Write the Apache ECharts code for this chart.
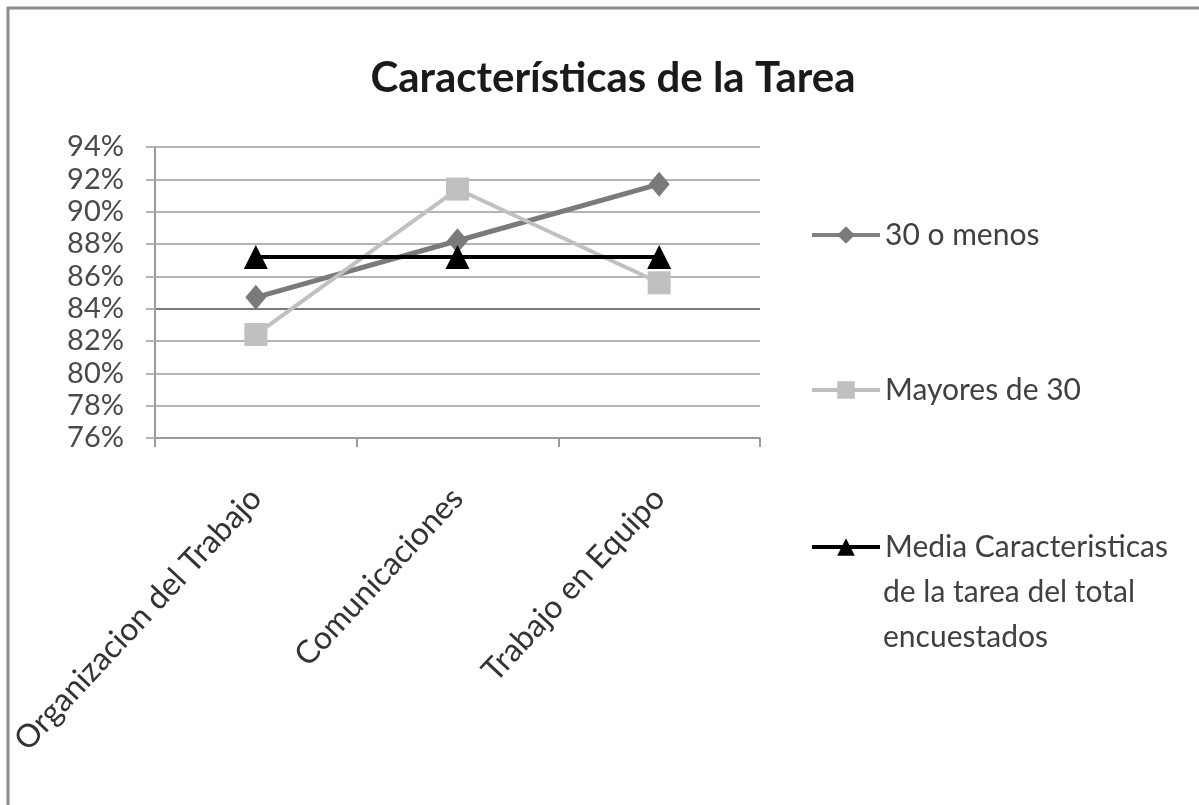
<!DOCTYPE html>
<html>
<head>
<meta charset="utf-8">
<script src="https://cdn.jsdelivr.net/npm/echarts@6/dist/echarts.min.js"></script>
<style>
  html, body { margin: 0; padding: 0; background: #ffffff; }
  #chart { width: 1199px; height: 805px; }
</style>
</head>
<body>
<div id="chart"></div>
<script>
// Categories and series values (percent)
var categories = ['Organizacion del Trabajo', 'Comunicaciones', 'Trabajo en Equipo'];
var hasta30 = [84.7, 88.2, 91.7];
var mayores30 = [82.4, 91.4, 85.6];
var mediaTotal = [87.2, 87.2, 87.2];
var seriesNames = ['30 o menos', 'Mayores de 30', 'Media Caracteristicas de la tarea del total encuestados'];
var mediaLegendLines = ['Media Caracteristicas', 'de la tarea del total', 'encuestados'];
var yMin = 76, yMax = 94, yStep = 2;

var FONT = 'Lato, "Open Sans", sans-serif';
var chart = echarts.init(document.getElementById('chart'), null, { renderer: 'canvas' });

// grid line colours, one per tick from 76% upward; the 84% line is drawn darker
var gridColors = ['#b4b4b4', '#b4b4b4', '#b4b4b4', '#b4b4b4', '#7a7a7a',
                  '#b4b4b4', '#b4b4b4', '#b4b4b4', '#b4b4b4', '#b4b4b4'];

function legendBlock(name, top, text, lineColor) {
  return {
    data: [name],
    orient: 'vertical',
    left: 805,
    top: top,
    itemWidth: 68,
    itemHeight: 22,
    selectedMode: false,
    lineStyle: { width: 4, color: lineColor },
    textStyle: { fontFamily: FONT, fontSize: 30, color: '#404040' },
    formatter: function () { return text; }
  };
}

chart.setOption({
  animation: false,
  backgroundColor: '#ffffff',
  title: {
    text: 'Características de la Tarea',
    left: 608,
    top: 52,
    textAlign: 'center',
    textStyle: { fontFamily: FONT, fontSize: 42, fontWeight: 'bold', color: '#1a1a1a' }
  },
  legend: [
    legendBlock(seriesNames[0], 215, seriesNames[0], '#7f7f7f'),
    legendBlock(seriesNames[1], 370, seriesNames[1], '#c0c0c0'),
    legendBlock(seriesNames[2], 527, mediaLegendLines[0], '#000000')
  ],
  graphic: [
    {
      type: 'rect',
      shape: { x: 8, y: 8, width: 1300, height: 900 },
      style: { fill: 'none', stroke: '#8c8c8c', lineWidth: 3 },
      silent: true
    },
    {
      type: 'text',
      left: 883,
      top: 570,
      style: {
        text: mediaLegendLines[1] + '\n' + mediaLegendLines[2],
        fontFamily: FONT,
        fontSize: 30,
        lineHeight: 45,
        fill: '#404040'
      }
    }
  ],
  grid: { left: 155, right: 439, top: 147, bottom: 367, containLabel: false },
  xAxis: {
    type: 'category',
    data: categories,
    boundaryGap: true,
    axisLine: { show: true, lineStyle: { color: '#9a9a9a', width: 2 } },
    axisTick: { show: true, length: 9, alignWithLabel: false, lineStyle: { color: '#9a9a9a', width: 2 } },
    axisLabel: {
      rotate: 47,
      margin: 55,
      fontFamily: FONT,
      fontSize: 32,
      color: '#333333'
    },
    splitLine: { show: false }
  },
  yAxis: {
    type: 'value',
    min: yMin,
    max: yMax,
    interval: yStep,
    axisLine: { show: true, lineStyle: { color: '#9a9a9a', width: 2 } },
    axisTick: { show: true, length: 9, lineStyle: { color: '#b4b4b4', width: 2 } },
    axisLabel: {
      formatter: '{value}%',
      margin: 31,
      fontFamily: FONT,
      fontSize: 29,
      color: '#4a4a4a'
    },
    splitLine: { show: true, lineStyle: { color: gridColors, width: 2 } }
  },
  series: [
    {
      name: seriesNames[0],
      type: 'line',
      data: hasta30,
      symbol: 'diamond',
      symbolSize: [21, 25],
      lineStyle: { color: '#7a7a7a', width: 5 },
      itemStyle: { color: '#7a7a7a' },
      z: 2
    },
    {
      name: seriesNames[1],
      type: 'line',
      data: mayores30,
      symbol: 'rect',
      symbolSize: 23,
      lineStyle: { color: '#c0c0c0', width: 4 },
      itemStyle: { color: '#c0c0c0' },
      z: 3
    },
    {
      name: seriesNames[2],
      type: 'line',
      data: mediaTotal,
      symbol: 'triangle',
      symbolSize: [24, 24],
      lineStyle: { color: '#000000', width: 4 },
      itemStyle: { color: '#000000' },
      z: 4
    }
  ]
});
</script>
</body>
</html>
